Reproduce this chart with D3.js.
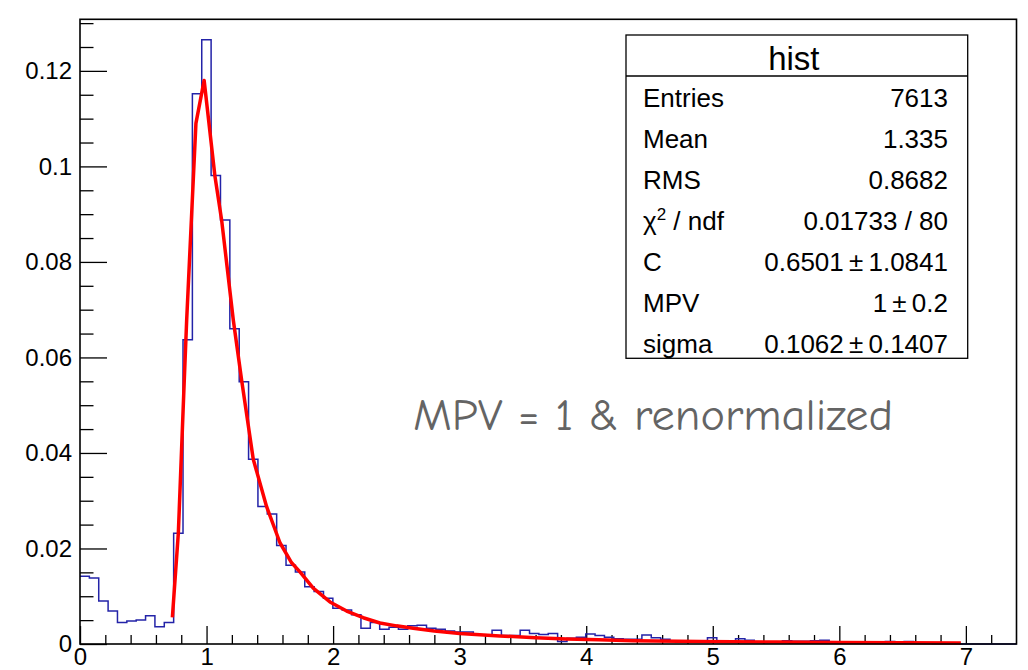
<!DOCTYPE html>
<html>
<head>
<meta charset="utf-8">
<script src="https://cdn.jsdelivr.net/npm/d3@7"></script>
<style>
  body { margin: 0; background: #fff; }
  svg { display: block; }
  .axis text { font-family: "Liberation Sans", Arial, sans-serif; font-size: 24px; fill: #000; }
  .axis line { stroke: #000; stroke-width: 1.3; }
</style>
</head>
<body>
<div id="chart"></div>
<script>
// -----------------------------------------------------------------------------
// data
// -----------------------------------------------------------------------------

var BIN_LOW = 0, BIN_HIGH = 7.4;

// 100 bins of width 0.074
var binValues = [
  0.0142, 0.0138, 0.0090, 0.0069, 0.0045, 0.0048, 0.0050, 0.0059, 0.0036, 0.0045,
  0.0232, 0.0637, 0.1152, 0.1265, 0.0981, 0.0888, 0.0660, 0.0549, 0.0387, 0.0288,
  0.0272, 0.0206, 0.0165, 0.0151, 0.0120, 0.0110, 0.0096, 0.0075, 0.0071, 0.0061,
  0.0033, 0.0045, 0.0031, 0.0035, 0.0031, 0.0038, 0.0039, 0.0033, 0.0031, 0.0027,
  0.0025, 0.0025, 0.0019, 0.0019, 0.0029, 0.0018, 0.0018, 0.0029, 0.0022, 0.0020,
  0.0022, 0.0005, 0.0012, 0.0014, 0.0021, 0.0018, 0.0014, 0.0011, 0.0010, 0.0010,
  0.0019, 0.0013, 0.0010, 0.0007, 0.0006, 0.0006, 0.0006, 0.0013, 0.0005, 0.0006,
  0.0011, 0.0008, 0.0004, 0.0004, 0.0004, 0.0007, 0.0006, 0.0006, 0.0007, 0.0008,
  0.0004, 0.0003, 0.0003, 0.0002, 0.0003, 0.0003, 0.0005, 0.0002, 0.0005, 0.0002,
  0.0002, 0.0001, 0.0001, 0.0001, 0, 0, 0, 0, 0, 0
];

// fitted landau, sampled along the red curve
var fitX = [0.73, 0.777, 0.824, 0.843, 0.916, 0.981, 1.066, 1.119, 1.211, 1.277,
            1.369, 1.474, 1.58, 1.672, 1.738, 1.843, 1.975, 2.107, 2.238, 2.37,
            2.5, 2.633, 2.8, 3.0, 3.317, 3.6, 3.844, 4.1, 4.37, 4.9, 5.5, 6.0, 6.5, 6.96];
var fitY = [0.0056, 0.0232, 0.0553, 0.0679, 0.109, 0.118, 0.098, 0.0888, 0.0679, 0.0553,
            0.0387, 0.0288, 0.0212, 0.0170, 0.0151, 0.0117, 0.0088, 0.0069, 0.0055, 0.0044,
            0.0038, 0.0033, 0.0027, 0.0022, 0.0017, 0.0013, 0.00105, 0.0009, 0.0007, 0.0005,
            0.0004, 0.0003, 0.00025, 0.0002];

var xMajorTicks = [0, 1, 2, 3, 4, 5, 6, 7];
var yMajorTicks = [0, 0.02, 0.04, 0.06, 0.08, 0.1, 0.12];
var yTickLabels = ["0", "0.02", "0.04", "0.06", "0.08", "0.1", "0.12"];

var statTitle = "hist";
var statNames = ["Entries", "Mean", "RMS", "chi2", "C", "MPV", "sigma"];
var statValues = ["7613", "1.335", "0.8682", "0.01733 / 80", "0.6501\u2009\u00b1\u20091.0841", "1\u2009\u00b1\u20090.2", "0.1062\u2009\u00b1\u20090.1407"];

var noteText = "MPV = 1 & renormalized";

// -----------------------------------------------------------------------------
// layout
// -----------------------------------------------------------------------------

var W = 1028, H = 670;
var frame = {left: 80, right: 1016.5, top: 19.3, bottom: 644};

var xScale = d3.scaleLinear()
    .domain([BIN_LOW, BIN_HIGH])
    .range([frame.left, frame.right]);

var yScale = d3.scaleLinear()
    .domain([0, 0.1308])
    .range([frame.bottom, frame.top]);

var svg = d3.select("#chart").append("svg")
    .attr("width", W)
    .attr("height", H);

// minor ticks
var xMinor = d3.range(0, 7.3, 0.2).filter(function(v) { return Math.abs(v - Math.round(v)) > 1e-6; });
var yMinor = d3.range(0, 0.131, 0.005).filter(function(v) { return Math.abs(v / 0.02 - Math.round(v / 0.02)) > 1e-6; });

svg.append("g")
    .attr("class", "axis")
    .attr("transform", "translate(0," + frame.bottom + ")")
    .call(d3.axisBottom(xScale).tickValues(xMinor).tickSize(-9).tickFormat(""))
    .call(function(g) { g.select(".domain").remove(); });

svg.append("g")
    .attr("class", "axis")
    .attr("transform", "translate(0," + frame.bottom + ")")
    .call(d3.axisBottom(xScale).tickValues(xMajorTicks).tickSize(-18).tickPadding(4).tickFormat(d3.format("d")))
    .call(function(g) { g.select(".domain").remove(); });

svg.append("g")
    .attr("class", "axis")
    .attr("transform", "translate(" + frame.left + ",0)")
    .call(d3.axisLeft(yScale).tickValues(yMinor).tickSize(-13.5).tickFormat(""))
    .call(function(g) { g.select(".domain").remove(); });

svg.append("g")
    .attr("class", "axis")
    .attr("transform", "translate(" + frame.left + ",0)")
    .call(d3.axisLeft(yScale).tickValues(yMajorTicks).tickSize(-27).tickPadding(8)
        .tickFormat(function(d, i) { return yTickLabels[i]; }))
    .call(function(g) { g.select(".domain").remove(); });

// histogram outline
var binWidth = (BIN_HIGH - BIN_LOW) / binValues.length;
var steps = [];
binValues.forEach(function(v, i) {
  steps.push([BIN_LOW + i * binWidth, v]);
  steps.push([BIN_LOW + (i + 1) * binWidth, v]);
});

var histLine = d3.line()
    .x(function(d) { return xScale(d[0]); })
    .y(function(d) { return yScale(d[1]); });

svg.append("path")
    .datum(steps)
    .attr("d", histLine)
    .attr("fill", "none")
    .attr("stroke", "#2323a8")
    .attr("stroke-width", 1.5);

// fit curve (polyline, like ROOT draws it)
var fitLine = d3.line()
    .x(function(d, i) { return xScale(fitX[i]); })
    .y(function(d) { return yScale(d); });

svg.append("path")
    .datum(fitY)
    .attr("d", fitLine)
    .attr("fill", "none")
    .attr("stroke", "#ff0000")
    .attr("stroke-width", 3.5)
    .attr("stroke-linejoin", "round");

// frame
svg.append("rect")
    .attr("x", frame.left)
    .attr("y", frame.top)
    .attr("width", frame.right - frame.left)
    .attr("height", frame.bottom - frame.top)
    .attr("fill", "none")
    .attr("stroke", "#000")
    .attr("stroke-width", 1.6);

// stats box
var box = {x: 626, y: 35, w: 341.7, h: 323.3, header: 76, rowTop: 107.3, rowStep: 41};
var stats = svg.append("g")
    .style("font-family", "'Liberation Sans', Arial, sans-serif");

stats.append("rect")
    .attr("x", box.x).attr("y", box.y)
    .attr("width", box.w).attr("height", box.h)
    .attr("fill", "#fff")
    .attr("stroke", "#000")
    .attr("stroke-width", 1.3);

stats.append("line")
    .attr("x1", box.x).attr("x2", box.x + box.w)
    .attr("y1", box.header).attr("y2", box.header)
    .attr("stroke", "#000")
    .attr("stroke-width", 1.3);

stats.append("text")
    .attr("x", box.x + box.w / 2 - 3)
    .attr("y", 70)
    .attr("text-anchor", "middle")
    .style("font-size", "33px")
    .text(statTitle);

statNames.forEach(function(name, i) {
  var yy = box.rowTop + i * box.rowStep;
  var t = stats.append("text")
      .attr("x", 643)
      .attr("y", yy)
      .style("font-size", "26px");
  if (name === "chi2") {
    t.append("tspan").text("\u03c7");
    t.append("tspan").attr("dy", -10).style("font-size", "17px").text("2");
    t.append("tspan").attr("dy", 10).text(" / ndf");
  } else {
    t.text(name);
  }
  stats.append("text")
      .attr("x", 948)
      .attr("y", yy)
      .attr("text-anchor", "end")
      .style("font-size", "26px")
      .text(statValues[i]);
});

// annotation
svg.append("text")
    .attr("x", 413)
    .attr("y", 430)
    .attr("textLength", 480)
    .attr("lengthAdjust", "spacingAndGlyphs")
    .style("font-family", "'Comic Sans MS', 'Comic Neue', 'DejaVu Sans', sans-serif")
    .style("font-size", "44px")
    .style("fill", "#646464")
    .text(noteText);
</script>
</body>
</html>
